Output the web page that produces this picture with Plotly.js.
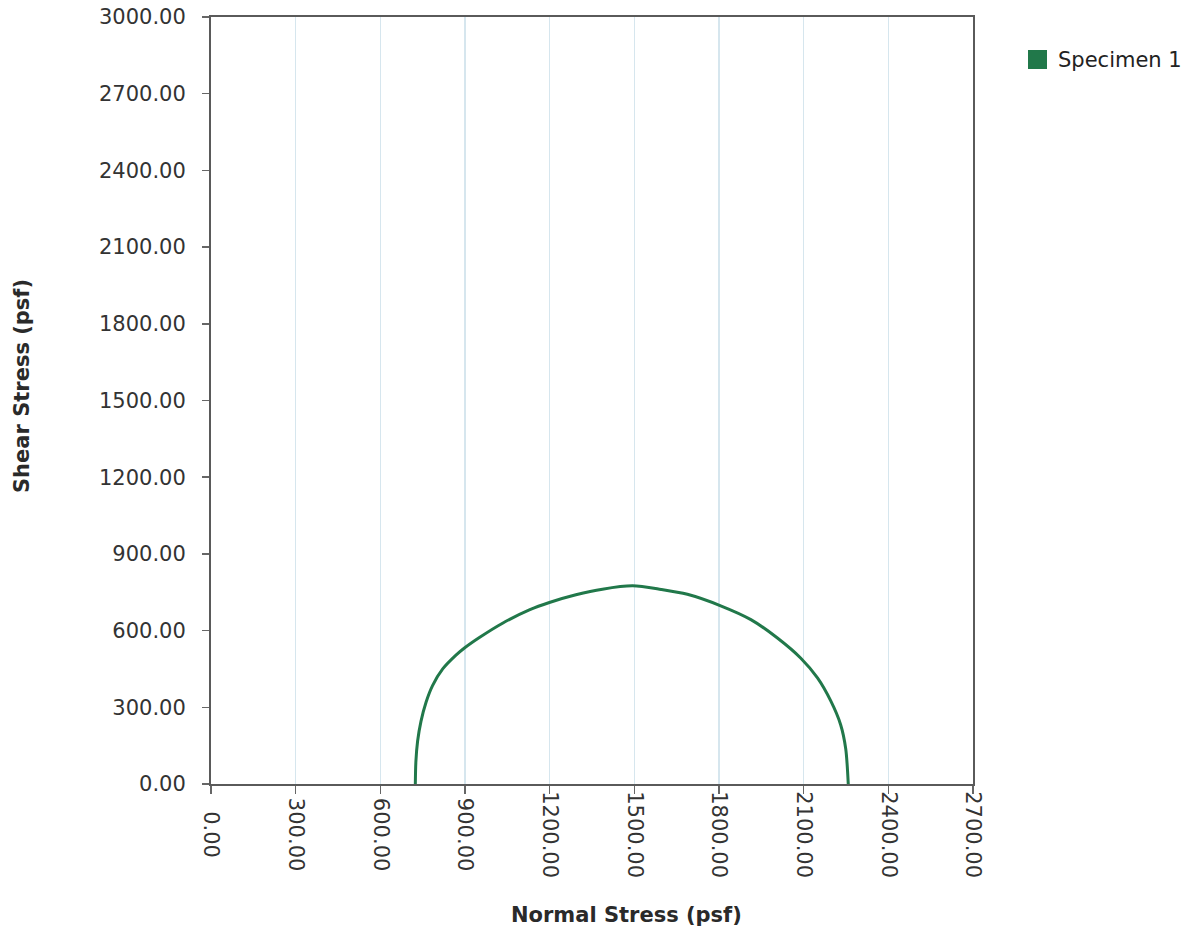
<!DOCTYPE html>
<html>
<head>
<meta charset="utf-8">
<script src="https://cdn.plot.ly/plotly-3.0.1.min.js"></script>
<style>html,body{margin:0;padding:0;background:#fff;}#chart{width:1195px;height:932px;}</style>
</head>
<body>
<div id="chart"></div>
<script>
// Data
const seriesName = "Specimen 1";
const xTitle = "Normal Stress (psf)";
const yTitle = "Shear Stress (psf)";
const normalStress = [724, 726, 732, 744, 762, 785, 821, 868, 898, 951, 1033, 1128, 1199, 1293, 1387, 1494, 1595, 1688, 1806, 1913, 2007, 2090, 2149, 2196, 2231, 2249, 2258];
const shearStress  = [0, 88, 167, 245, 320, 385, 450, 504, 532, 573, 629, 681, 710, 740, 762, 775, 761, 742, 697, 643, 571, 492, 415, 325, 232, 138, 0];
const xTicks = [0, 300, 600, 900, 1200, 1500, 1800, 2100, 2400, 2700];
const yTicks = [0, 300, 600, 900, 1200, 1500, 1800, 2100, 2400, 2700, 3000];

const green = "#21784a";
const fontFam = "DejaVu Sans, Verdana, sans-serif";

// centre the rotated x labels like the reference (pad shorter labels)
function padLabel(v) {
  const s = v.toFixed(2);
  const pad = s.length === 4 ? 3 : (s.length === 6 ? 1 : 0);
  return "\u00a0".repeat(pad) + s;
}

const trace = {
  type: "scatter",
  mode: "lines",
  name: seriesName,
  x: normalStress,
  y: shearStress,
  line: {color: green, width: 3, shape: "spline", smoothing: 0.8},
  showlegend: false,
  hoverinfo: "x+y"
};

const L = 211, R = 973, T = 17, B = 784;
const layout = {
  width: 1195, height: 932,
  margin: {l: L, r: 1195 - R, t: T, b: 932 - B},
  paper_bgcolor: "#ffffff",
  plot_bgcolor: "#ffffff",
  font: {family: fontFam, color: "#333", size: 21},
  showlegend: false,
  xaxis: {
    range: [0, 2700],
    tickvals: xTicks,
    ticktext: xTicks.map(padLabel),
    tickangle: 90,
    ticks: "outside", ticklen: 8, tickcolor: "#666", tickwidth: 1.5,
    ticklabelstandoff: -7,
    showgrid: true, gridcolor: "#d6e6ee", gridwidth: 1.5,
    zeroline: false,
    showline: true, linecolor: "#5a5a5a", linewidth: 2, mirror: true,
    tickfont: {size: 21, color: "#333", family: fontFam},
    automargin: false,
    fixedrange: true
  },
  yaxis: {
    range: [0, 3000],
    tickvals: yTicks,
    ticktext: yTicks.map(v => v.toFixed(2)),
    ticks: "outside", ticklen: 7, tickcolor: "#666", tickwidth: 1.5,
    ticklabelstandoff: 12,
    showgrid: false,
    zeroline: false,
    showline: true, linecolor: "#5a5a5a", linewidth: 2, mirror: true,
    tickfont: {size: 21, color: "#333", family: fontFam},
    automargin: false,
    fixedrange: true
  },
  shapes: [
    {type: "rect", xref: "paper", yref: "paper",
     x0: (1028 - L) / (R - L), x1: (1047 - L) / (R - L),
     y0: (B - 69) / (B - T), y1: (B - 50) / (B - T),
     fillcolor: green, line: {width: 0}}
  ],
  annotations: [
    {xref: "paper", yref: "paper", x: (1056 - L) / (R - L), y: (B - 59.5) / (B - T),
     xanchor: "left", yanchor: "middle", showarrow: false,
     text: seriesName, font: {size: 21, color: "#222", family: fontFam}},
    {xref: "paper", yref: "paper", x: (626 - L) / (R - L), y: (B - 915) / (B - T),
     xanchor: "center", yanchor: "middle", showarrow: false,
     text: "<b>" + xTitle + "</b>", font: {size: 21, color: "#2a2a2a", family: fontFam}},
    {xref: "paper", yref: "paper", x: (22 - L) / (R - L), y: (B - 386) / (B - T),
     xanchor: "center", yanchor: "middle", showarrow: false, textangle: -90,
     text: "<b>" + yTitle + "</b>", font: {size: 21, color: "#2a2a2a", family: fontFam}}
  ]
};

Plotly.newPlot("chart", [trace], layout, {displayModeBar: false, staticPlot: true});
</script>
</body>
</html>
